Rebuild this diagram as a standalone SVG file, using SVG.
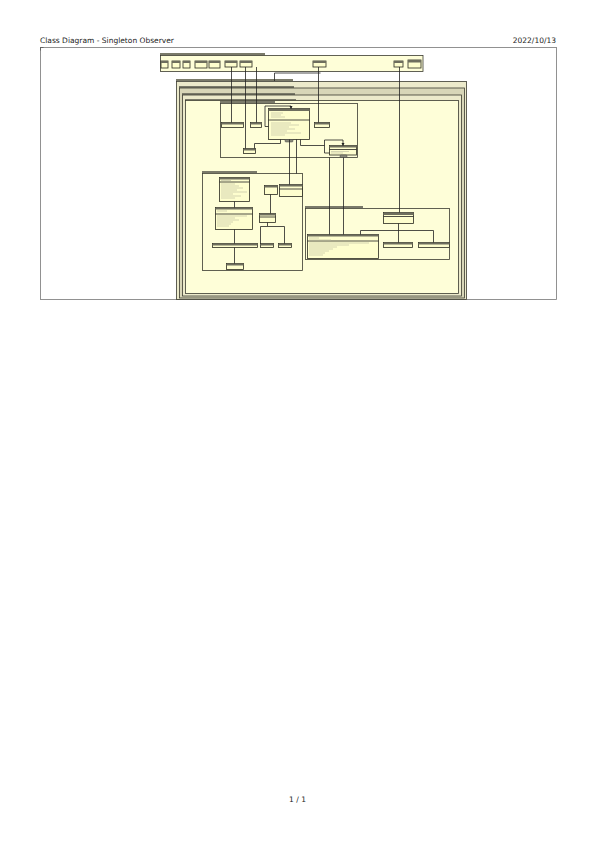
<svg xmlns="http://www.w3.org/2000/svg" width="595" height="842" viewBox="0 0 595 842">
<defs>
<style>
.t{font-family:"DejaVu Sans","Liberation Sans",sans-serif;font-size:7.5px;fill:#222}
.pkg{fill:#FEFED8;stroke:#3a3a30;stroke-width:0.8}
.tab{fill:#7a7a6a;stroke:none}
.cls{fill:#FEFECE;stroke:#2a2a20;stroke-width:0.8}
.hd{fill:#6e6e5e;stroke:none}
.row{stroke:#b8b8a0;stroke-width:0.6}
.ln{stroke:#222;stroke-width:0.8;fill:none}
.lol{fill:#8a8a7a;stroke:#444;stroke-width:0.5}
</style>
<marker id="ah" viewBox="0 0 6 6" refX="5" refY="3" markerWidth="4" markerHeight="4" orient="auto"><path d="M0 0L6 3L0 6z" fill="#222"/></marker>
</defs>
<rect width="595" height="842" fill="#fff"/>
<text class="t" x="40" y="43">Class Diagram - Singleton Observer</text>
<text class="t" x="556" y="43" text-anchor="end">2022/10/13</text>
<text class="t" x="297.5" y="802" text-anchor="middle">1 / 1</text>
<rect x="40.5" y="47.5" width="516" height="252" fill="none" stroke="#777" stroke-width="0.8"/>
<path d="M40.5 47.5h3M40.5 47.5v3" stroke="#555" stroke-width="0.8"/>

<g id="pkg-top">
<rect x="160" y="53" width="105" height="2.5" class="tab"/>
<rect x="160.5" y="55.5" width="262.5" height="16" class="pkg"/>
<rect x="161" y="61" width="7" height="7" class="cls"/><rect x="161" y="61" width="7" height="2" class="hd"/>
<rect x="172" y="61" width="8" height="7" class="cls"/><rect x="172" y="61" width="8" height="2" class="hd"/>
<rect x="183" y="61" width="7" height="7" class="cls"/><rect x="183" y="61" width="7" height="2" class="hd"/>
<rect x="195" y="61" width="12" height="7" class="cls"/><rect x="195" y="61" width="12" height="2" class="hd"/>
<rect x="209" y="61" width="11" height="7" class="cls"/><rect x="209" y="61" width="11" height="2" class="hd"/>
<rect x="225" y="61" width="12" height="6" class="cls"/><rect x="225" y="61" width="12" height="2" class="hd"/>
<rect x="240" y="61" width="12" height="6" class="cls"/><rect x="240" y="61" width="12" height="2" class="hd"/>
<rect x="313" y="61" width="13" height="6" class="cls"/><rect x="313" y="61" width="13" height="2" class="hd"/>
<rect x="394" y="61" width="9" height="6" class="cls"/><rect x="394" y="61" width="9" height="2" class="hd"/>
<rect x="408" y="60" width="13" height="8" class="cls"/><rect x="408" y="60" width="13" height="2.5" class="hd"/>
</g>

<g id="pkg-outer">
<rect x="176" y="79" width="117" height="2" class="tab"/>
<rect x="176.5" y="81.5" width="290" height="218" fill="#ECEACB" stroke="#3a3a30" stroke-width="0.8"/>
<rect x="179" y="86" width="115" height="2" class="tab"/>
<rect x="179.5" y="88" width="285" height="210" fill="#D8D6B8" stroke="#3a3a30" stroke-width="0.8"/>
<rect x="182" y="93" width="113" height="2" class="tab"/>
<rect x="182.5" y="95" width="279" height="201" fill="#ECEACB" stroke="#3a3a30" stroke-width="0.8"/>
<rect x="185" y="99" width="111" height="1.5" class="tab"/>
<rect x="185.5" y="100.5" width="273" height="193" fill="#FEFED8" stroke="#3a3a30" stroke-width="0.8"/>
</g>

<g id="pkg-1">
<rect x="220" y="101" width="55" height="2" class="tab"/>
<rect x="220.5" y="103.5" width="137" height="54" class="pkg"/>
</g>
<g id="c1"><rect x="221.5" y="122.5" width="22" height="5" class="cls"/><rect x="221.5" y="122.5" width="22" height="2" class="hd"/></g>
<g id="c2"><rect x="250.5" y="122.5" width="11" height="5" class="cls"/><rect x="250.5" y="122.5" width="11" height="2" class="hd"/></g>
<g id="c3">
<rect x="268.5" y="108.5" width="41" height="31" class="cls"/><rect x="268.5" y="108.5" width="41" height="2.5" class="hd"/>
<line x1="268.5" y1="120" x2="309.5" y2="120" class="ln"/>
<path d="M271 113h12M271 115h10M271 117h14M271 123h20M271 125h28M271 127h18M271 129h24M271 131h16M271 133h30M271 135h14" class="row"/>
<rect x="285" y="139.5" width="8" height="2.5" rx="1" class="lol"/>
</g>
<g id="c4"><rect x="314.5" y="122.5" width="15" height="5" class="cls"/><rect x="314.5" y="122.5" width="15" height="2" class="hd"/></g>
<g id="c5"><rect x="243.5" y="148.5" width="12" height="5" class="cls"/><rect x="243.5" y="148.5" width="12" height="2" class="hd"/></g>
<g id="c5b">
<rect x="329.5" y="145.5" width="27" height="9.5" class="cls"/><rect x="329.5" y="145.5" width="27" height="2" class="hd"/>
<line x1="329.5" y1="149.5" x2="356.5" y2="149.5" class="ln"/>
<path d="M331 151.5h18M331 153h12" class="row"/>
<rect x="340" y="155" width="7" height="2.5" rx="1" class="lol"/>
</g>

<g id="pkg-2">
<rect x="202" y="171" width="55" height="2" class="tab"/>
<rect x="202.5" y="173.5" width="100" height="97" class="pkg"/>
</g>
<g id="c6"><rect x="219.5" y="177.5" width="30" height="24" class="cls"/><rect x="219.5" y="177.5" width="30" height="2" class="hd"/><line x1="219.5" y1="182" x2="249.5" y2="182" class="ln"/>
<path d="M221 180.5h10M221 184h14M221 186h18M221 188h22M221 190h16M221 192h26M221 194h12M221 196h20M221 198h14" class="row"/></g>
<g id="c7"><rect x="215.5" y="207.5" width="37" height="22" class="cls"/><rect x="215.5" y="207.5" width="37" height="2" class="hd"/><line x1="215.5" y1="214" x2="252.5" y2="214" class="ln"/>
<path d="M217 211h10M217 216h30M217 218h18M217 220h22M217 222h16M217 224h14M217 226h12" class="row"/></g>
<g id="c8"><rect x="212.5" y="243.5" width="45" height="4" class="cls"/><rect x="212.5" y="243.5" width="45" height="2" class="hd"/></g>
<g id="c9"><rect x="226.5" y="263.5" width="17" height="6" class="cls"/><rect x="226.5" y="263.5" width="17" height="2" class="hd"/></g>
<g id="c10"><rect x="264.5" y="185.5" width="13" height="9" class="cls"/><rect x="264.5" y="185.5" width="13" height="2" class="hd"/></g>
<g id="c11"><rect x="279.5" y="184.5" width="23" height="12" class="cls"/><rect x="279.5" y="184.5" width="23" height="2" class="hd"/><line x1="279.5" y1="189" x2="302.5" y2="189" class="ln"/></g>
<g id="c12"><rect x="259.5" y="213.5" width="16" height="9" class="cls"/><rect x="259.5" y="213.5" width="16" height="2" class="hd"/><line x1="259.5" y1="217" x2="275.5" y2="217" class="ln"/></g>
<g id="c13"><rect x="260.5" y="243.5" width="13" height="4" class="cls"/><rect x="260.5" y="243.5" width="13" height="2" class="hd"/></g>
<g id="c14"><rect x="278.5" y="243.5" width="13" height="4" class="cls"/><rect x="278.5" y="243.5" width="13" height="2" class="hd"/></g>

<g id="pkg-3">
<rect x="305" y="206" width="58" height="2" class="tab"/>
<rect x="305.5" y="208.5" width="144" height="51" class="pkg"/>
</g>
<g id="c15"><rect x="307.5" y="234.5" width="71" height="24" class="cls"/><rect x="307.5" y="234.5" width="71" height="2" class="hd"/><line x1="307.5" y1="241" x2="378.5" y2="241" class="ln"/>
<path d="M309 238h10M309 240h22M309 243h60M309 245h40M309 247h28M309 249h24M309 251h20M309 253h16M309 255h14" class="row"/></g>
<g id="c16"><rect x="383.5" y="212.5" width="30" height="11" class="cls"/><rect x="383.5" y="212.5" width="30" height="2.5" class="hd"/><line x1="383.5" y1="216.5" x2="413.5" y2="216.5" class="ln"/></g>
<g id="c17"><rect x="383.5" y="242.5" width="29" height="5" class="cls"/><rect x="383.5" y="242.5" width="29" height="2" class="hd"/></g>
<g id="c18"><rect x="418.5" y="242.5" width="31" height="5" class="cls"/><rect x="418.5" y="242.5" width="31" height="2" class="hd"/></g>

<g id="connectors" class="ln">
<path d="M231.5 67v55.5"/>
<path d="M245.5 67v81.5"/>
<path d="M256.5 67v55.5"/>
<path d="M320.5 73h-46v8"/>
<path d="M318.5 67v55.5"/>
<path d="M399.5 67v145.5"/>
<path d="M268.5 126.5h-3.5v-20.5h26v2.5" marker-end="url(#ah)"/>
<path d="M329.5 153h-5v-13h18.5v5.5" marker-end="url(#ah)"/>
<path d="M289.5 139.5v45"/>
<path d="M280.5 139.5v4h-26v5"/>
<path d="M300.5 139.5v6h24"/>
<path d="M343.5 157.5v77"/>
<path d="M329.5 157.5v77"/>
<path d="M234.5 201.5v6"/>
<path d="M234.5 229.5v14"/>
<path d="M234.5 247.5v16"/>
<path d="M270.5 194.5v19"/>
<path d="M267.5 222.5v4h-7v17M267.5 226.5h17v17"/>
<path d="M398.5 223.5v19"/>
<path d="M398.5 230.5h-38v4M398.5 230.5h35v12"/>
<path d="M296.5 173.5v-34"/>
</g>
</svg>
